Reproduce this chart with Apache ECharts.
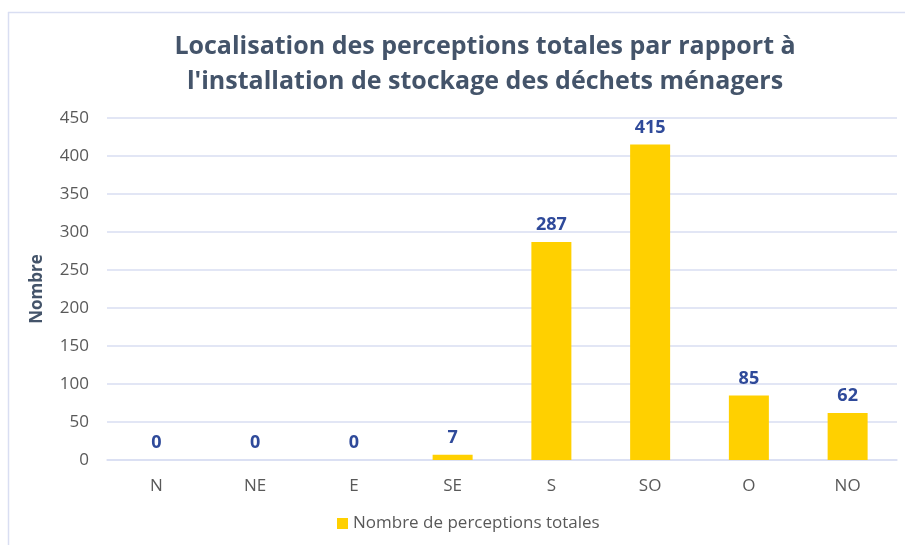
<!DOCTYPE html>
<html>
<head>
<meta charset="utf-8">
<script src="https://cdn.jsdelivr.net/npm/echarts@6/dist/echarts.min.js"></script>
<style>
  html, body { margin: 0; padding: 0; background: #fff; }
  #chart { width: 905px; height: 545px; }
</style>
</head>
<body>
<div id="chart"></div>
<script>
// données du graphique
const directions = ['N', 'NE', 'E', 'SE', 'S', 'SO', 'O', 'NO'];
const perceptions = [0, 0, 0, 7, 287, 415, 85, 62];
const seriesName = 'Nombre de perceptions totales';
const yMax = 450;
const yStep = 50;

const chart = echarts.init(document.getElementById('chart'));
const fontFam = '"Open Sans", "Noto Sans", sans-serif';

chart.setOption({
    animation: false,
    textStyle: { fontFamily: fontFam },
    title: {
        text: "Localisation des perceptions totales par rapport à\nl'installation de stockage des déchets ménagers",
        left: 480,
        textAlign: 'center',
        top: 24,
        textStyle: {
            color: '#44546A',
            fontSize: 25,
            fontWeight: 'bold',
            lineHeight: 35,
            fontFamily: fontFam
        }
    },
    grid: {
        left: 107,
        right: 8,
        top: 118,
        bottom: 85
    },
    legend: {
        bottom: 8,
        left: 332,
        itemWidth: 11,
        itemHeight: 11,
        icon: 'rect',
        itemGap: 6,
        textStyle: { color: '#595959', fontSize: 17, fontFamily: fontFam },
        data: [seriesName]
    },
    xAxis: {
        type: 'category',
        data: directions,
        axisLine: { lineStyle: { color: '#D9DEF2', width: 1.5 } },
        axisTick: { show: false },
        axisLabel: { color: '#595959', fontSize: 17, margin: 18 }
    },
    yAxis: {
        type: 'value',
        min: 0,
        max: yMax,
        interval: yStep,
        name: 'Nombre',
        nameLocation: 'middle',
        nameGap: 61,
        nameTextStyle: { color: '#44546A', fontSize: 17, fontWeight: 'bold' },
        axisLine: { show: false },
        axisTick: { show: false },
        splitLine: { lineStyle: { color: '#D9DEF2', width: 1.5 } },
        axisLabel: { color: '#595959', fontSize: 17, margin: 18 }
    },
    series: [{
        name: seriesName,
        type: 'bar',
        data: perceptions,
        barWidth: 40,
        itemStyle: { color: '#FFD000' },
        label: {
            show: true,
            position: 'top',
            distance: 8,
            color: '#2F4A9A',
            fontSize: 18,
            fontWeight: 'bold'
        }
    }],
    graphic: [
        { type: 'line', shape: { x1: 8, y1: 12.5, x2: 905, y2: 12.5 }, style: { stroke: '#D9DEF2', lineWidth: 1.5 } },
        { type: 'line', shape: { x1: 8.5, y1: 12, x2: 8.5, y2: 545 }, style: { stroke: '#D9DEF2', lineWidth: 1.5 } }
    ]
});
</script>
</body>
</html>
